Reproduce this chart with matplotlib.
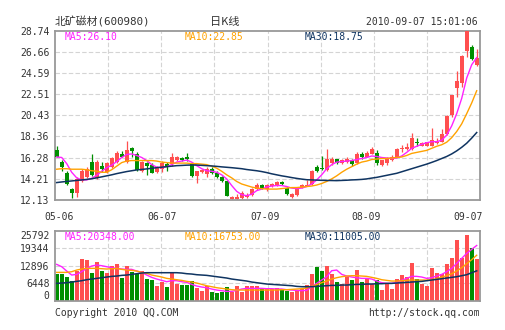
import matplotlib
matplotlib.use('Agg')
import matplotlib.pyplot as plt
import numpy as np

# ---- data (daily candles 2010-05-06 .. 2010-09-07) ----
opens = [17.08, 15.84, 14.75, 13.21, 12.79, 14.03, 14.43, 15.90, 14.30, 15.51,
         14.85, 15.34, 15.84, 16.66, 15.84, 17.21, 16.66, 14.95, 15.74, 15.61,
         14.85, 15.18, 15.67, 15.67, 16.07, 16.26, 16.33, 15.67, 14.52, 14.89,
         14.69, 15.21, 14.82, 14.43, 13.97, 12.20, 12.26, 12.33, 12.39, 12.66,
         13.21, 13.60, 13.21, 13.47, 13.59, 13.91, 13.28, 12.45, 12.60, 13.35,
         13.55, 13.69, 15.37, 15.27, 15.11, 15.74, 16.12, 15.80, 15.90, 16.06,
         15.74, 16.63, 16.37, 16.69, 16.70, 15.56, 15.73, 16.05, 16.38, 17.13,
         17.13, 17.13, 17.85, 17.45, 17.45, 17.45, 17.68, 17.85, 18.56, 20.43,
         23.11, 23.60, 26.70, 27.10, 25.40]
highs = [17.38, 16.07, 14.95, 13.31, 14.36, 15.18, 15.34, 16.66, 16.07, 15.84,
         15.84, 16.39, 16.98, 16.92, 17.90, 17.31, 16.82, 16.00, 15.84, 15.74,
         15.51, 16.00, 15.84, 16.72, 16.49, 16.39, 16.72, 15.84, 15.02, 15.18,
         15.34, 15.34, 14.95, 14.52, 14.03, 12.56, 12.72, 12.98, 12.79, 13.31,
         13.77, 13.70, 13.69, 13.80, 14.00, 14.00, 13.40, 12.85, 13.40, 13.70,
         14.10, 15.10, 15.60, 16.44, 17.16, 16.30, 16.20, 16.20, 16.30, 16.20,
         16.80, 16.80, 16.90, 17.35, 17.00, 16.10, 16.30, 16.54, 17.20, 17.50,
         17.68, 18.72, 18.17, 17.80, 17.85, 19.20, 18.20, 19.05, 20.45, 22.45,
         24.81, 26.40, 28.74, 27.37, 26.94]
lows = [16.33, 15.02, 13.64, 12.29, 12.46, 13.87, 14.30, 14.52, 14.20, 14.85,
        14.75, 15.25, 15.74, 16.33, 15.74, 16.33, 15.02, 14.85, 14.62, 14.75,
        14.75, 14.85, 15.02, 15.51, 16.00, 15.93, 16.00, 14.43, 13.77, 14.75,
        14.43, 14.69, 14.30, 13.90, 12.52, 12.13, 12.13, 12.23, 12.29, 12.56,
        13.11, 13.20, 13.06, 13.40, 13.50, 13.60, 12.65, 12.30, 12.50, 13.30,
        13.50, 13.60, 14.90, 15.10, 15.00, 15.60, 15.70, 15.70, 15.80, 15.50,
        15.70, 16.20, 16.30, 16.60, 15.56, 15.50, 15.60, 15.95, 16.30, 16.87,
        17.00, 17.03, 17.45, 17.40, 17.40, 17.40, 17.60, 17.80, 18.50, 20.30,
        22.23, 23.20, 26.20, 25.90, 25.23]
closes = [16.39, 15.34, 13.70, 12.79, 14.20, 15.02, 15.18, 14.62, 15.90, 15.18,
          15.74, 16.26, 16.75, 16.39, 17.08, 16.92, 15.11, 15.84, 15.44, 14.82,
          15.28, 15.74, 15.41, 16.33, 16.33, 16.07, 16.13, 14.52, 14.95, 15.08,
          15.21, 14.82, 14.36, 13.97, 12.56, 12.46, 12.46, 12.79, 12.66, 13.18,
          13.64, 13.30, 13.59, 13.69, 13.91, 13.66, 12.74, 12.75, 13.30, 13.60,
          13.65, 15.02, 14.98, 15.17, 16.12, 16.12, 15.74, 16.06, 16.12, 15.68,
          16.60, 16.31, 16.75, 17.16, 15.73, 16.05, 16.15, 16.38, 17.13, 17.26,
          17.36, 18.17, 17.68, 17.68, 17.80, 18.00, 17.85, 18.56, 20.39, 22.43,
          23.83, 26.22, 28.74, 25.96, 26.06]
volumes = [9824, 9824, 8840, 7245, 10930, 15350, 14980, 10190, 14245, 10930,
           10190, 12894, 13508, 8350, 12771, 10560, 9700, 10930, 8100, 7614,
           5403, 7000, 5158, 10315, 6140, 5772, 5772, 7245, 4789, 3561,
           5403, 3316, 2947, 3316, 5158, 3070, 5526, 3316, 5526, 5526,
           5526, 4298, 4298, 4298, 4789, 4298, 3561, 3316, 3561, 4298,
           5772, 9824, 12403, 10929, 12771, 9824, 7000, 6140, 8719, 7491,
           11298, 6877, 7859, 6017, 7614, 3930, 6386, 4298, 7859, 9456,
           8596, 13876, 7982, 6140, 5403, 12157, 10070, 9824, 13508, 15841,
           22500, 15841, 24300, 19600, 15400]

# moving-average lines as drawn on the chart
ma5 = [16.35, 16.30, 15.70, 14.85, 14.30, 14.10, 14.10, 14.25, 14.55, 14.95,
       15.30, 15.55, 15.90, 16.30, 16.60, 16.65, 16.50, 16.30, 16.00, 15.60,
       15.35, 15.30, 15.40, 15.60, 15.85, 15.95, 16.05, 15.85, 15.50, 15.20,
       15.00, 14.95, 14.85, 14.60, 14.20, 13.55, 12.98, 12.65, 12.55, 12.70,
       13.05, 13.20, 13.40, 13.50, 13.55, 13.55, 13.45, 13.30, 13.25, 13.30,
       13.45, 13.70, 14.10, 14.60, 15.20, 15.60, 15.85, 15.90, 15.95, 16.00,
       16.10, 16.20, 16.30, 16.45, 16.40, 16.30, 16.25, 16.20, 16.25, 16.45,
       16.80, 17.20, 17.40, 17.60, 17.75, 17.85, 17.85, 18.00, 18.50, 19.40,
       20.60, 22.10, 24.10, 25.40, 26.10]
ma10 = [15.15, 15.20, 15.20, 15.15, 15.15, 15.15, 15.10, 15.00, 14.95, 14.85,
        14.85, 15.10, 15.45, 15.80, 15.95, 16.00, 16.00, 16.00, 16.00, 16.00,
        15.95, 15.85, 15.80, 15.75, 15.75, 15.75, 15.75, 15.70, 15.70, 15.65,
        15.60, 15.45, 15.25, 14.95, 14.60, 14.30, 13.95, 13.70, 13.55, 13.40,
        13.30, 13.25, 13.20, 13.20, 13.20, 13.25, 13.30, 13.35, 13.35, 13.40,
        13.45, 13.50, 13.60, 13.75, 13.95, 14.20, 14.50, 14.85, 15.15, 15.40,
        15.65, 15.85, 15.95, 16.10, 16.15, 16.20, 16.20, 16.25, 16.30, 16.35,
        16.50, 16.70, 16.80, 16.90, 17.00, 17.20, 17.40, 17.55, 17.80, 18.25,
        18.85, 19.60, 20.60, 21.65, 22.85]
ma30 = [13.84, 13.90, 13.95, 14.00, 14.05, 14.10, 14.15, 14.22, 14.30, 14.40,
        14.50, 14.60, 14.72, 14.82, 14.92, 15.00, 15.08, 15.13, 15.18, 15.24,
        15.30, 15.35, 15.40, 15.45, 15.50, 15.52, 15.55, 15.56, 15.56, 15.53,
        15.50, 15.47, 15.43, 15.38, 15.34, 15.30, 15.25, 15.20, 15.12, 15.06,
        15.00, 14.92, 14.82, 14.70, 14.60, 14.50, 14.42, 14.33, 14.25, 14.18,
        14.12, 14.10, 14.08, 14.06, 14.05, 14.04, 14.03, 14.05, 14.07, 14.10,
        14.12, 14.15, 14.20, 14.28, 14.35, 14.45, 14.55, 14.65, 14.75, 14.90,
        15.05, 15.20, 15.35, 15.50, 15.65, 15.82, 16.00, 16.20, 16.40, 16.65,
        16.95, 17.30, 17.70, 18.20, 18.75]
vma5 = [13385, 12526, 10929, 9456, 9700, 10684, 11912, 12771, 13140, 12894,
        12526, 12157, 11912, 11666, 11543, 11543, 10929, 10438, 9456, 8596,
        7982, 7491, 7000, 7368, 7368, 7000, 6754, 6017, 5403, 5035,
        4789, 4298, 3930, 3684, 3438, 3438, 3807, 4298, 4544, 4544,
        4544, 4544, 4421, 4421, 4298, 4298, 4052, 3930, 3807, 3684,
        3807, 5158, 6386, 7614, 8842, 11052, 11298, 9700, 9087, 8719,
        8473, 8228, 8228, 7982, 7245, 6631, 6386, 6386, 6754, 7491,
        8228, 8964, 8964, 8719, 8228, 8473, 9087, 9700, 10684, 11912,
        13754, 15596, 17438, 18911, 20348]
vma10 = [10438, 10438, 10438, 10684, 11298, 11666, 11912, 11912, 11912, 11789,
         11666, 11789, 11912, 11543, 11298, 11175, 10929, 10438, 10070, 9456,
         9087, 8719, 8228, 7982, 7736, 7491, 7122, 6877, 6508, 6017,
         5526, 5158, 4789, 4544, 4298, 4052, 3930, 3930, 3930, 3930,
         3930, 3930, 3930, 3930, 3930, 4052, 4052, 4175, 4298, 4421,
         4666, 5280, 5894, 6631, 7245, 7982, 8473, 8842, 9087, 9210,
         9210, 9087, 8964, 8596, 8228, 7736, 7491, 7245, 7245, 7368,
         7491, 7614, 7614, 7614, 7614, 7736, 8105, 8596, 9210, 9947,
         10929, 12157, 13631, 15104, 16753]
vma30 = [6386, 6508, 6631, 6877, 7122, 7368, 7736, 7982, 8228, 8473,
         8719, 8964, 9087, 9333, 9456, 9700, 9947, 10192, 10315, 10315,
         10315, 10315, 10315, 10315, 10315, 10192, 9947, 9824, 9578, 9456,
         9333, 9087, 8842, 8596, 8350, 7982, 7736, 7491, 7245, 6877,
         6631, 6386, 6140, 6017, 5894, 5772, 5649, 5526, 5280, 5158,
         5158, 5158, 5280, 5403, 5526, 5649, 5649, 5772, 5772, 5894,
         6017, 6017, 6140, 6140, 6263, 6263, 6386, 6386, 6508, 6631,
         6754, 6877, 7000, 7122, 7368, 7614, 7859, 8105, 8350, 8596,
         8842, 9210, 9578, 10300, 11005]

price_ticks = [12.13, 14.21, 16.28, 18.36, 20.43, 22.51, 24.59, 26.66, 28.74]
vol_ticks = [0, 6448, 12896, 19344, 25792]
date_labels = ['05-06', '06-07', '07-09', '08-09', '09-07']

RED = '#ff4f4f'
GREEN = '#008f00'
C_MA5 = '#ff22ff'
C_MA10 = '#ffa200'
C_MA30 = '#0f3461'
TXT = '#333333'
FRAME = '#999999'
GRID = '#d4d4d4'
MONO = ['DejaVu Sans Mono']
CJK = ['DejaVu Sans Mono', 'Noto Sans CJK SC']

n = len(closes)
idx = np.arange(n)
o = np.array(opens)
c = np.array(closes)
up = c >= o
cols = np.where(up, RED, GREEN)

fig = plt.figure(figsize=(5.05, 3.30), dpi=100)
fig.patch.set_facecolor('white')
ax = fig.add_axes([55 / 505, 1 - 200 / 330, 425 / 505, 169.3 / 330])
axv = fig.add_axes([55 / 505, 1 - 300.7 / 330, 425 / 505, 70 / 330])

xmin, xmax = -0.34, 84.66
grid_x = [xmin + (xmax - xmin) * k / 8 for k in range(1, 8)]

for a in (ax, axv):
    a.set_xlim(xmin, xmax)
    for s in a.spines.values():
        s.set_color(FRAME)
        s.set_linewidth(1.3)
    a.tick_params(length=0, colors=TXT, labelsize=7)
    for gx in grid_x:
        a.axvline(gx, color=GRID, lw=0.8, ls=(0, (4, 2)), zorder=0)

# ---- price panel ----
ax.set_ylim(price_ticks[0], price_ticks[-1])
ax.set_yticks(price_ticks)
ax.set_yticklabels(['%.2f' % t for t in price_ticks], family=MONO)
for t in price_ticks[1:-1]:
    ax.axhline(t, color=GRID, lw=0.8, ls=(0, (4, 2)), zorder=0)

ax.vlines(idx, lows, highs, colors=cols, lw=0.9, zorder=2)
body = np.maximum(np.abs(c - o), 0.06)
ax.bar(idx, body, bottom=np.minimum(o, c), width=0.78, color=cols, zorder=3)

ax.plot(idx, ma5, color=C_MA5, lw=1.0, zorder=4)
ax.plot(idx, ma10, color=C_MA10, lw=1.0, zorder=4)
ax.plot(idx, ma30, color=C_MA30, lw=1.1, zorder=4)

# date labels under the price panel
label_pos = [0.46, 21.06, 41.66, 61.86, 82.36]
ax.set_xticks(label_pos)
ax.set_xticklabels(date_labels, family=MONO)
ax.tick_params(axis='x', pad=9)
ax.tick_params(axis='y', pad=4)

ax.text(0.0235, 0.995, 'MA5:%.2f' % ma5[-1], transform=ax.transAxes,
        color=C_MA5, fontsize=7, family=MONO, va='top')
ax.text(0.306, 0.995, 'MA10:%.2f' % ma10[-1], transform=ax.transAxes,
        color=C_MA10, fontsize=7, family=MONO, va='top')
ax.text(0.588, 0.995, 'MA30:%.2f' % ma30[-1], transform=ax.transAxes,
        color=C_MA30, fontsize=7, family=MONO, va='top')

# ---- volume panel ----
axv.set_ylim(vol_ticks[0], vol_ticks[-1])
axv.set_yticks(vol_ticks)
axv.set_yticklabels([str(t) for t in vol_ticks], family=MONO)
ylabs = axv.get_yticklabels()
ylabs[0].set_va('bottom')
ylabs[-1].set_va('top')
axv.tick_params(axis='y', pad=4)
axv.set_xticks([])
for t in vol_ticks[1:-1]:
    axv.axhline(t, color=GRID, lw=0.8, ls=(0, (4, 2)), zorder=0)

axv.bar(idx, volumes, width=0.74, color=cols, zorder=2)
axv.plot(idx, vma5, color=C_MA5, lw=1.0, zorder=3)
axv.plot(idx, vma10, color=C_MA10, lw=1.0, zorder=3)
axv.plot(idx, vma30, color=C_MA30, lw=1.1, zorder=3)

axv.text(0.0235, 0.975, 'MA5:%.2f' % vma5[-1], transform=axv.transAxes,
         color=C_MA5, fontsize=7, family=MONO, va='top')
axv.text(0.306, 0.975, 'MA10:%.2f' % vma10[-1], transform=axv.transAxes,
         color=C_MA10, fontsize=7, family=MONO, va='top')
axv.text(0.588, 0.975, 'MA30:%.2f' % vma30[-1], transform=axv.transAxes,
         color=C_MA30, fontsize=7, family=MONO, va='top')

# ---- header and footer ----
fig.text(55 / 505, 1 - 22 / 330, '北矿磁材(600980)', family=CJK, fontsize=7.8,
         color=TXT, ha='left', va='center')
fig.text(225 / 505, 1 - 22 / 330, '日K线', family=['Noto Sans CJK SC'],
         fontsize=8, color=TXT, ha='center', va='center')
fig.text(478 / 505, 1 - 22 / 330, '2010-09-07 15:01:06', family=MONO,
         fontsize=7, color=TXT, ha='right', va='center')
fig.text(55 / 505, 1 - 313 / 330, 'Copyright 2010 QQ.COM', family=MONO,
         fontsize=7, color=TXT, ha='left', va='center')
fig.text(480 / 505, 1 - 313 / 330, 'http://stock.qq.com', family=MONO,
         fontsize=7, color=TXT, ha='right', va='center')

fig.savefig('out.png', dpi=100, facecolor='white')
plt.close(fig)
